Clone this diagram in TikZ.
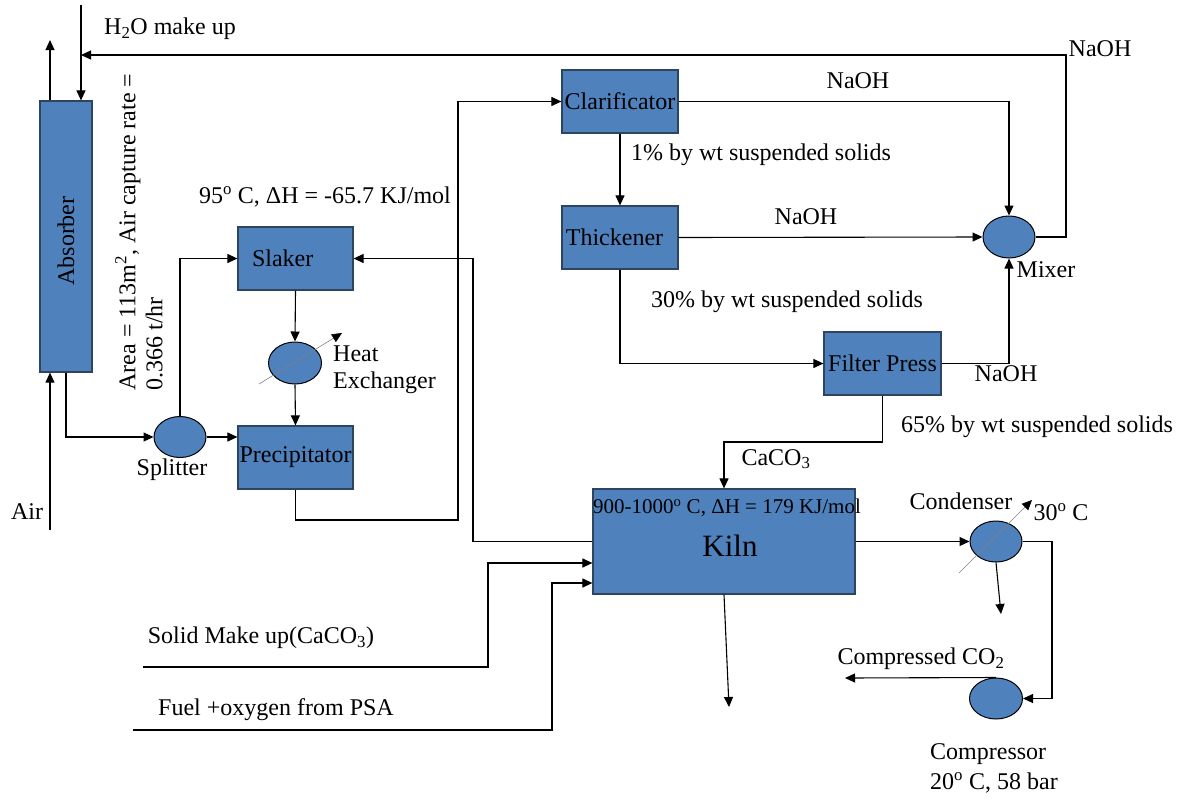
\documentclass[tikz,border=0pt]{standalone}
\usepackage{fontspec}
\setmainfont{Liberation Serif}
\usetikzlibrary{arrows.meta,shapes.geometric,calc}
\definecolor{boxblue}{HTML}{4F81BD}
\definecolor{boxedge}{HTML}{2E4560}
\begin{document}
\begin{tikzpicture}[x=1pt,y=-1pt,
  every node/.style={font=\fontsize{24}{27}\selectfont, inner sep=0pt},
  unit/.style={draw=boxedge, fill=boxblue, line width=1.2pt, rectangle, minimum width=115pt, minimum height=63pt},
  vessel/.style={draw=black, fill=boxblue, line width=1pt, ellipse, minimum width=52pt, minimum height=41pt},
  flow/.style={line width=1.1pt, -{Triangle[length=10pt,width=9pt]}},
  hxline/.style={line width=0.6pt, draw=gray, -{Triangle[length=10pt,width=9pt,color=black]}}
]
\useasboundingbox (0,0) rectangle (1183,801);

% ---------- units ----------
\node[unit, minimum width=52pt, minimum height=271pt] (absorber) at (66,236.5) {};
\node[rotate=90] (abstext) at (66,241) {Absorber};
\node[unit, text width=87pt, align=left] (slaker) at (295.5,258.5) {Slaker};
\node[unit] (prec) at (295.5,457.5) {Precipitator};
\node[unit, minimum width=116pt] (clar) at (620,101.5) {Clarificator};
\node[unit, minimum width=116pt] (thick) at (620,237.5) {\hspace*{-11pt}Thickener};
\node[unit, minimum width=117pt] (fp) at (882.5,363.5) {Filter Press};
\node[unit, minimum width=262pt, minimum height=105pt] (kiln) at (724,541.5) {};
\node[font=\fontsize{21}{24}\selectfont] (kilntemp) at (727,508) {900-1000\textsuperscript{o} C, ΔH = 179 KJ/mol};
\node[font=\fontsize{31}{34}\selectfont] (kilnname) at (730,546) {Kiln};

\node[vessel] (splitter) at (180,437) {};
\node[vessel, minimum width=53pt, minimum height=42pt] (hx) at (295,363) {};
\node[vessel, minimum height=42pt] (mixer) at (1009,237) {};
\node[vessel] (cond) at (996,541.5) {};
\node[vessel, minimum width=53pt] (comp) at (996,698.5) {};

% ---------- free ends and corners ----------
\coordinate (absout) at (50,40);
\coordinate (h2otop) at (81,5);
\coordinate (h2ojoin) at (81,55);
\coordinate (airin) at (50,530);
\coordinate (c1) at (458,520);
\coordinate (c2) at (473,258.5);
\coordinate (c3) at (488,563);
\coordinate (c4) at (552,583);
\coordinate (c5) at (724,442);
\coordinate (c6) at (1052,698.5);
\coordinate (c7) at (1066,55);
\coordinate (sm0) at (143,667);
\coordinate (f0) at (133,730);
\coordinate (kout) at (729,707);
\coordinate (condout) at (1001,614);
\coordinate (co2out) at (845,678);
\coordinate (hxa) at (259,384);
\coordinate (hxb) at (342,333);
\coordinate (cda) at (959,573);
\coordinate (cdb) at (1032,500);

% ---------- connectors ----------
\draw[flow] ([xshift=-16pt]absorber.north) -- (absout);
\draw[flow] (h2otop) -- ([xshift=15pt]absorber.north);
\draw[flow] (mixer.east) -| (c7) -- (h2ojoin);
\draw[flow] (airin) -- ([xshift=-16pt]absorber.south);
\draw[flow] (absorber.south) |- (splitter.west);
\draw[flow] (splitter.east) -- (splitter.east -| prec.west);
\draw[flow] (splitter.north) |- (slaker.west);
\draw[flow] (slaker.south) -- (hx.north);
\draw[flow] (hx.south) -- (prec.north);
\draw[hxline] (hxa) -- (hxb);
\draw[flow] (prec.south) |- (c1) |- (clar.west);
\draw[flow] (kiln.west) -| (c2) -- (slaker.east);
\draw[flow] (clar.east) -| (mixer.north);
\draw[flow] (clar.south) -- (thick.north);
\draw[flow] (thick.east) -- (mixer.west);
\draw[flow] (thick.south) |- (fp.west);
\draw[flow] (fp.east) -| (mixer.south);
\draw[flow] (fp.south) |- (c5) -- (kiln.north);
\draw[flow] (sm0) -| (c3) -- (c3 -| kiln.west);
\draw[flow] (f0) -| (c4) -- (c4 -| kiln.west);
\draw[flow] (kiln.south) -- (kout);
\draw[flow] (kiln.east) -- (cond.west);
\draw[hxline] (cda) -- (cdb);
\draw[flow] (cond.south) -- (condout);
\draw[flow] (cond.east) -| (c6) -- (comp.east);
\draw[flow] (comp.north) -- (co2out);

% ---------- labels ----------
\node (h2olbl) at (170,29) {H\textsubscript{2}O make up};
\node (naoh1) at (1100,49) {NaOH};
\node (naoh2) at (858,81) {NaOH};
\node (sol1) at (761,155) {1\% by wt suspended solids};
\node (naoh3) at (806,217) {NaOH};
\node (mixlbl) at (1046,270) {Mixer};
\node (sol30) at (787,302) {30\% by wt suspended solids};
\node (naoh4) at (1006,374) {NaOH};
\node (sol65) at (1037,427) {65\% by wt suspended solids};
\node (caco3) at (776,459) {CaCO\textsubscript{3}};
\node (slaktemp) at (325,197) {95\textsuperscript{o} C, ΔH = -65.7 KJ/mol};
\node[rotate=90, align=left] (area) at (139,232) {Area = 113m\textsuperscript{2}, Air capture rate =\\0.366 t/hr};
\node (splitlbl) at (172,470) {Splitter};
\node[align=left, anchor=west] (hxlbl) at (333,370) {Heat\\Exchanger};
\node (airlbl) at (27,512) {Air};
\node (smlbl) at (261,638) {Solid Make up(CaCO\textsubscript{3})};
\node (fuellbl) at (276,710) {Fuel +oxygen from PSA};
\node (condlbl) at (961,501) {Condenser};
\node (condtemp) at (1061,512) {30\textsuperscript{o} C};
\node (co2lbl) at (921,659) {Compressed CO\textsubscript{2}};
\node[align=left, anchor=west, font=\fontsize{24}{30}\selectfont] (complbl) at (930,768) {Compressor\\20\textsuperscript{o} C, 58 bar};
\end{tikzpicture}
\end{document}
